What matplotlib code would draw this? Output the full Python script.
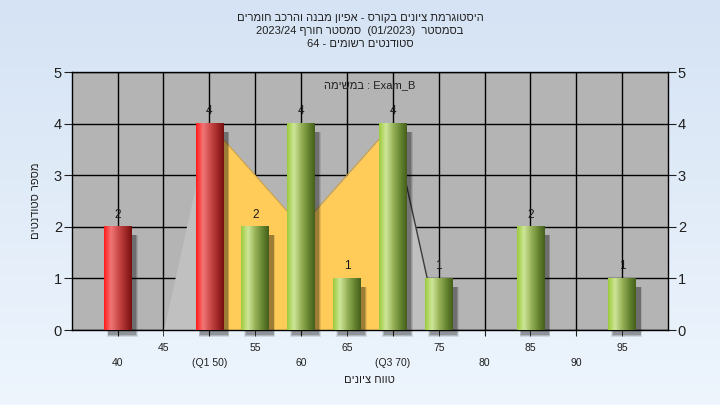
import re
import numpy as np
import matplotlib
matplotlib.use("Agg")
import matplotlib.pyplot as plt
from matplotlib.colors import LinearSegmentedColormap
from matplotlib.patches import Rectangle

plt.rcParams["font.family"] = ["Liberation Sans", "DejaVu Sans"]

# grade histogram data
grades = [40, 45, 50, 55, 60, 65, 70, 75, 80, 85, 90, 95]
counts = [2, 0, 4, 2, 4, 1, 4, 1, 0, 2, 0, 1]
tick_labels = ["40", "45", "(Q1 50)", "55", "60", "65", "(Q3 70)", "75", "80", "85", "90", "95"]
pass_grade = 55

# distribution outline behind the bars (quartile band in yellow)
curve_x = [45, 50, 60, 70, 75]
curve_y = [0, 4, 2, 4, 0]
q1, q3 = 50, 70

title_lines = [
    "היסטוגרמת ציונים בקורס - אפיון מבנה והרכב חומרים",
    "בסמסטר  (01/2023)  סמסטר חורף 2023/24",
    "סטודנטים רשומים - 64",
]
task_word = "במשימה"
task_name = "Exam_B"
x_title = "טווח ציונים"
y_title = "מספר סטודנטים"


def rtl(s):
    # crude bidi: flip the line, keep latin/number runs readable, mirror brackets
    out = s[::-1]
    out = re.sub(r"[0-9A-Za-z_/.]+", lambda m: m.group(0)[::-1], out)
    return out.translate(str.maketrans("()", ")("))


green_cm = LinearSegmentedColormap.from_list(
    "green", [(0, "#9CCB3C"), (0.25, "#CFE69A"), (0.5, "#98B45A"), (0.8, "#62812E"), (1, "#465F1C")])
red_cm = LinearSegmentedColormap.from_list(
    "red", [(0, "#FF1C1C"), (0.25, "#F27676"), (0.55, "#C64444"), (0.85, "#952020"), (1, "#741010")])

fig = plt.figure(figsize=(7.2, 4.05), dpi=100)

# light blue background gradient
bg = fig.add_axes([0, 0, 1, 1], zorder=-10)
bg_cm = LinearSegmentedColormap.from_list("bg", ["#EEF5FD", "#D5E3F4"])
bg.imshow(np.linspace(0, 1, 256).reshape(-1, 1), aspect="auto", cmap=bg_cm,
          extent=[0, 1, 0, 1], origin="lower")
bg.axis("off")

ax = fig.add_axes([0.0996, 0.185, 0.8283, 0.637])
ax.set_facecolor("#B4B4B4")

# area behind bars
cx = np.array(curve_x, dtype=float)
cy = np.array(curve_y, dtype=float)
ax.fill_between(cx, cy, where=(cx <= q1), color="#C0C0C0", lw=0, zorder=1)
ax.fill_between(cx, cy, where=(cx >= q3), color="#C0C0C0", lw=0, zorder=1)
band = (cx >= q1) & (cx <= q3)
ax.fill_between(cx[band], cy[band], color="#FFCC5A", lw=0, zorder=1.1)
ax.plot(cx[band], cy[band], color="#C9A24A", lw=0.8, zorder=1.2)
ax.plot(cx[cx >= q3], cy[cx >= q3], color="#3A3A3A", lw=1, zorder=1.2)

bar_w = 3.0
for g, c in zip(grades, counts):
    if c == 0:
        continue
    x0 = g - bar_w / 2
    # soft shadow
    for k, a in enumerate([0.1, 0.14, 0.2]):
        grow = (2 - k) * 0.09
        ax.add_patch(Rectangle((x0 + 0.5 - grow, -0.1 - grow * 0.2), bar_w + grow * 2,
                               c - 0.06 + grow * 0.2, color="black", alpha=a, lw=0,
                               zorder=2.5, clip_on=False))
    cm = red_cm if g < pass_grade else green_cm
    ax.imshow(np.linspace(0, 1, 64).reshape(1, -1), cmap=cm, aspect="auto",
              extent=(x0, x0 + bar_w, 0, c), zorder=3, interpolation="bilinear")
    ax.text(g, c + 0.12, str(c), ha="center", va="bottom", fontsize=8.5, color="#1A1A1A", zorder=5)

ax.set_xlim(35, 100)
ax.set_ylim(0, 5)

ax.set_xticks(grades[0::2])
ax.set_xticklabels(tick_labels[0::2])
ax.set_xticks(grades[1::2], minor=True)
ax.set_xticklabels(tick_labels[1::2], minor=True)
ax.tick_params(axis="x", which="major", length=4, pad=16, labelsize=7.5, colors="#202020")
ax.tick_params(axis="x", which="minor", length=4, pad=5, labelsize=7.5, colors="#202020")
ax.set_yticks(range(0, 6))
ax.tick_params(axis="y", length=6, labelsize=10.5, colors="#202020", right=True, labelright=True, pad=1)

ax.set_axisbelow(True)
ax.grid(True, which="both", color="black", lw=1)
for sp in ax.spines.values():
    sp.set_color("black")
    sp.set_linewidth(1)

ax.text(0.5, 0.95, rtl(task_word) + " : " + task_name, transform=ax.transAxes,
        ha="center", va="center", fontsize=8, color="#202020")

ax.set_xlabel(rtl(x_title), fontsize=8, color="#202020", labelpad=5)
ax.set_ylabel(rtl(y_title), fontsize=8, color="#202020", labelpad=9)

for i, line in enumerate(title_lines):
    fig.text(0.5, 1 - (18 + 13 * i) / 405, rtl(line), ha="center", va="center",
             fontsize=8, color="#202020")

fig.savefig("out.png", dpi=100)
